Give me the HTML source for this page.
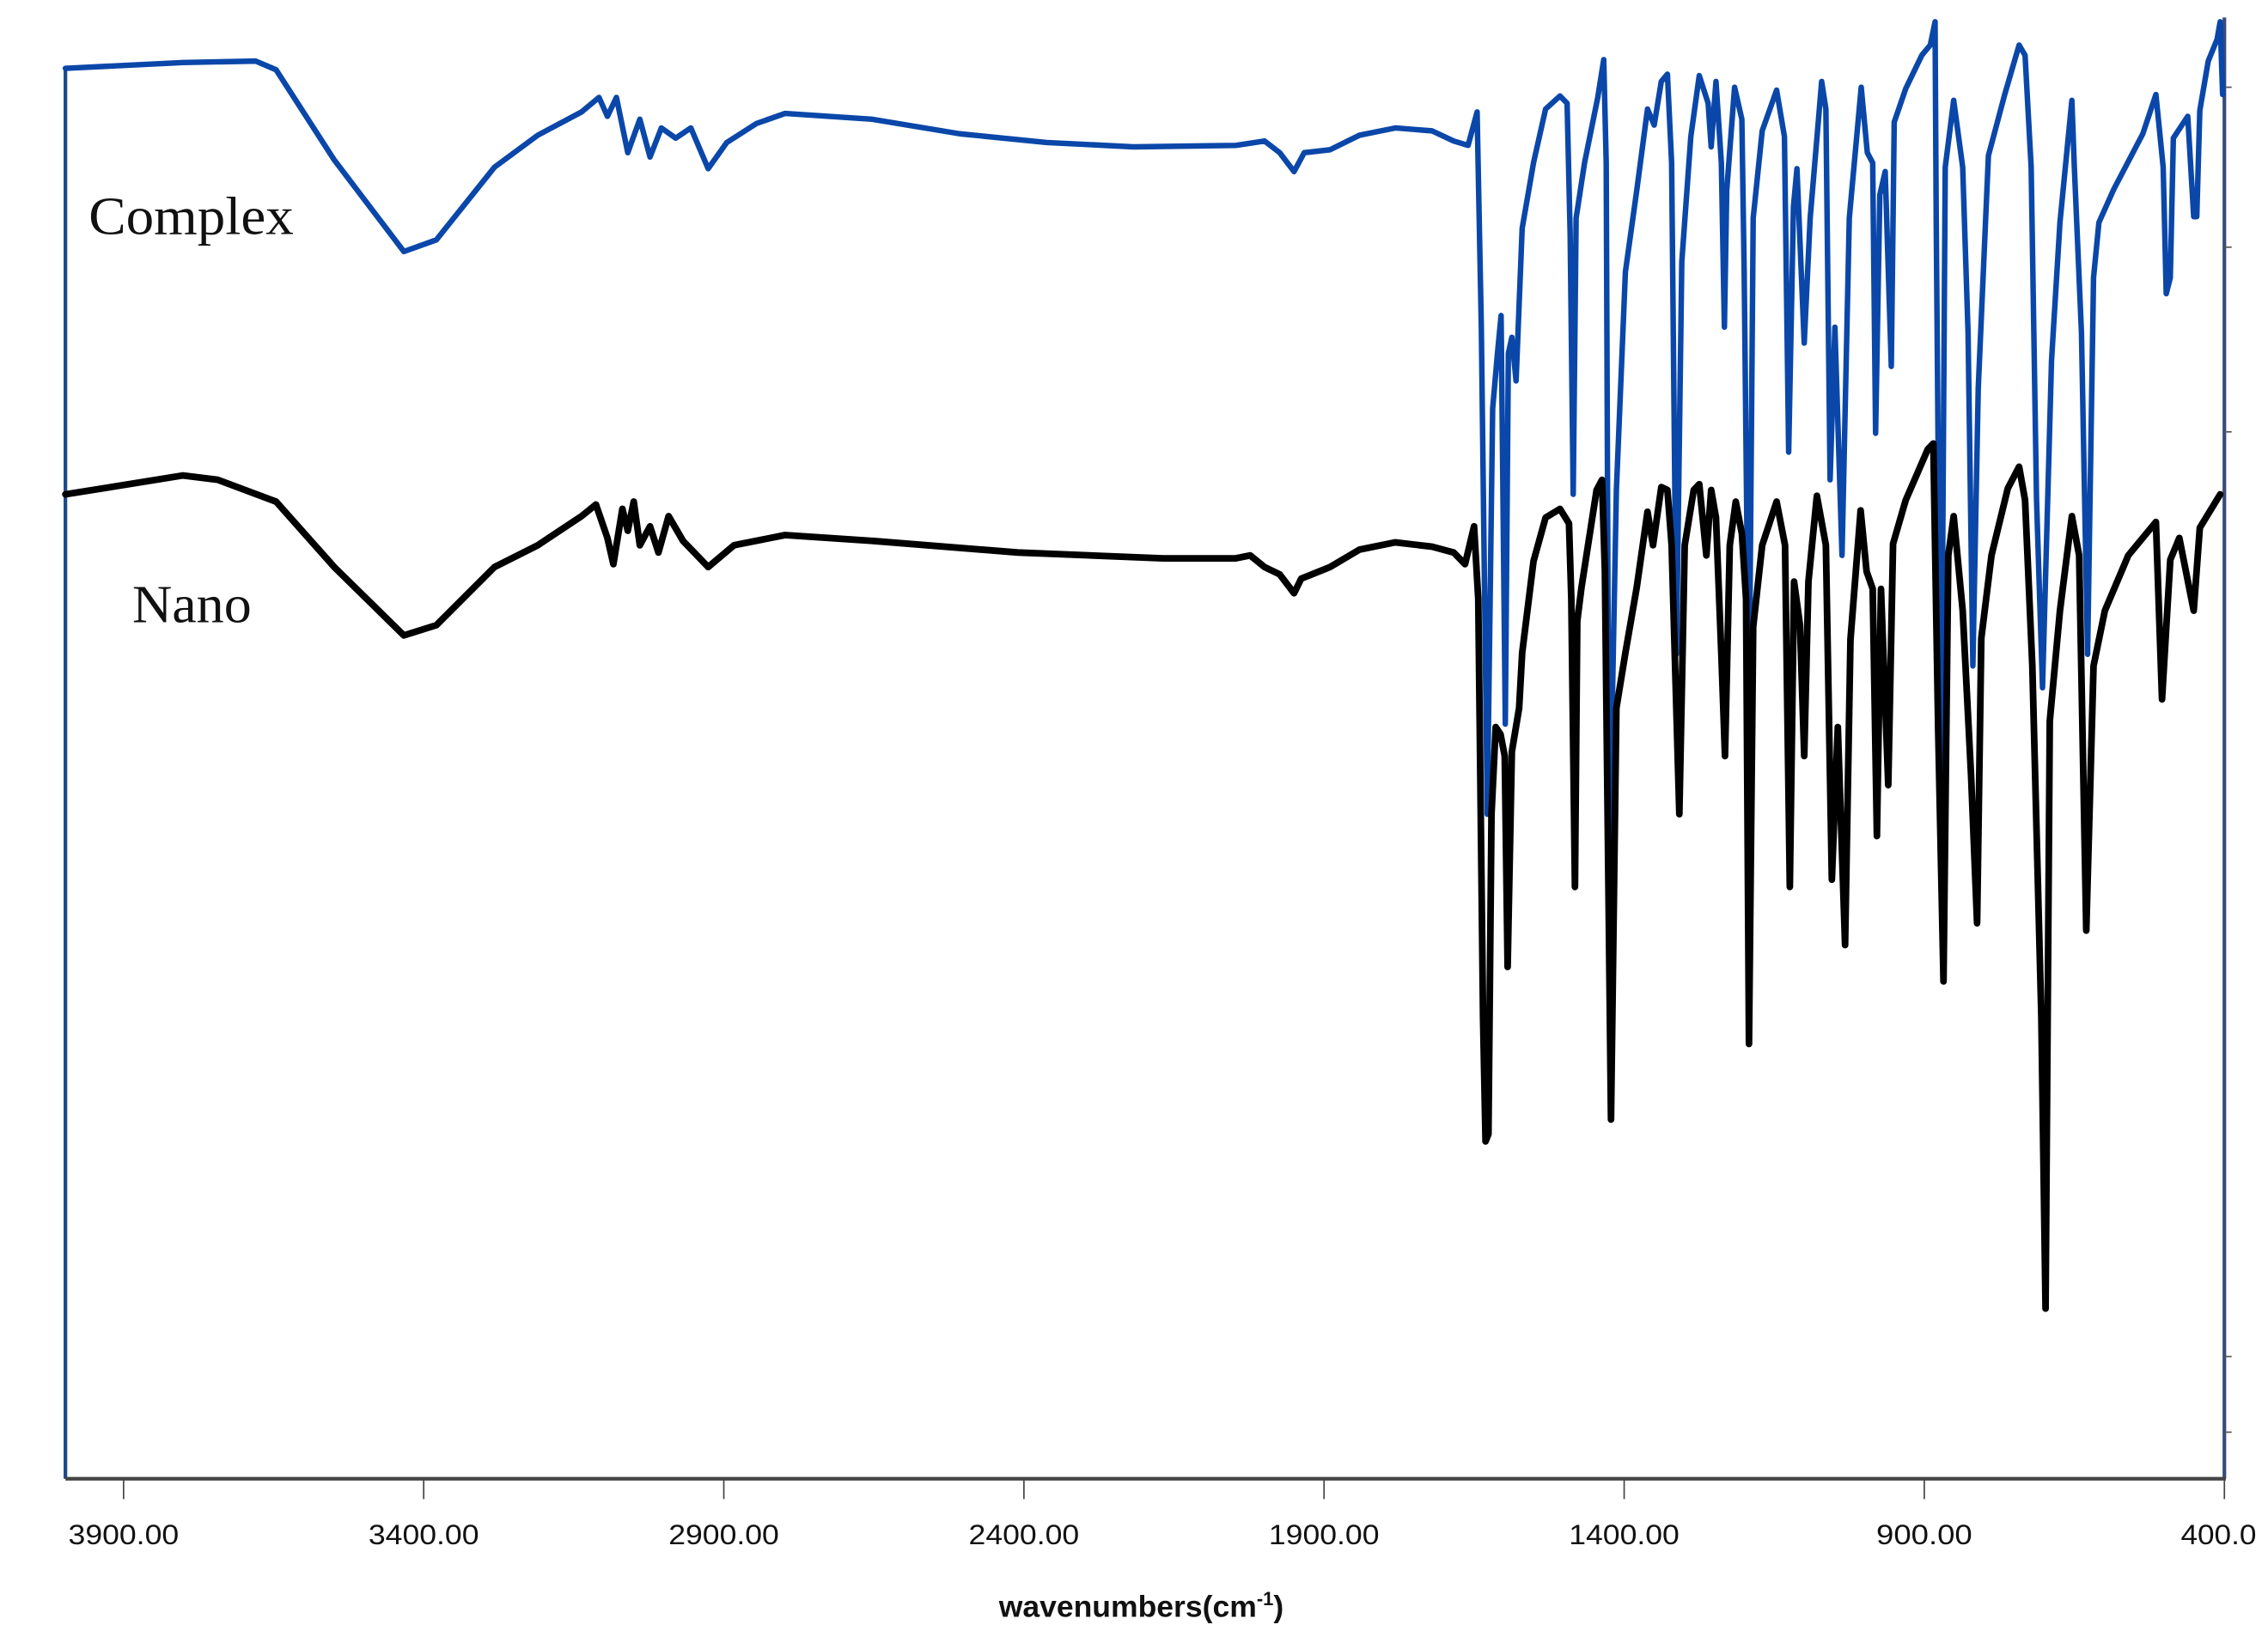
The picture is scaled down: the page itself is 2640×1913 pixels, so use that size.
<!DOCTYPE html>
<html><head><meta charset="utf-8"><title>FTIR spectra: Complex and Nano</title>
<style>html,body{margin:0;padding:0;background:#fff;}svg{display:block;}</style></head>
<body>
<svg id="chart" width="2640" height="1913" viewBox="0 0 1560 1130" preserveAspectRatio="none" xmlns="http://www.w3.org/2000/svg">
<rect x="0" y="0" width="1560" height="1130" fill="#fff"/>
<g id="axes"></g>
<g id="series"></g>
<text x="61" y="161" font-family="Liberation Serif, serif" font-size="37" fill="#111" textLength="141" lengthAdjust="spacingAndGlyphs">Complex</text>
<text x="91" y="428" font-family="Liberation Serif, serif" font-size="37" fill="#111" textLength="82" lengthAdjust="spacingAndGlyphs">Nano</text>
<text x="785" y="1112" text-anchor="middle" font-family="Liberation Sans, sans-serif" font-weight="bold" font-size="21" fill="#111">wavenumbers(cm<tspan font-size="13" dy="-8">-1</tspan><tspan dy="8">)</tspan></text>
</svg>
<script>
const tickLabels = ["3900.00","3400.00","2900.00","2400.00","1900.00","1400.00","900.00","400.0"];
const tickValues = [3900,3400,2900,2400,1900,1400,900,400];

const complexWn = [3997,3801,3680,3646,3549,3433,3379,3282,3210,3137,3108,3094,3079,3060,3040,3023,3004,2980,2955,2926,2895,2846,2798,2653,2507,2362,2217,2047,1999,1974,1950,1933,1890,1841,1781,1720,1684,1660,1645,1638,1628,1619,1611,1605,1598,1593,1587,1580,1570,1551,1531,1507,1495,1490,1485,1480,1466,1444,1434,1430,1425,1413,1398,1379,1361,1350,1338,1328,1321,1313,1304,1289,1275,1260,1255,1247,1238,1233,1229,1216,1204,1200,1192,1185,1170,1146,1133,1126,1118,1112,1100,1090,1071,1064,1057,1049,1037,1025,1005,995,986,981,974,965,955,950,931,904,890,882,880,872,865,851,836,827,819,810,793,766,742,732,722,713,703,688,674,654,650,638,628,618,609,584,536,514,502,497,490,485,461,451,446,441,427,412,407,403];
const complexT = [97.0,97.4,97.5,96.9,90.7,84.4,85.2,90.2,92.4,94.0,95.0,93.7,95.0,91.2,93.5,90.9,92.9,92.2,92.9,90.1,91.9,93.2,93.9,93.5,92.5,91.9,91.6,91.7,92.0,91.2,89.9,91.2,91.4,92.4,92.9,92.7,92.0,91.7,94.0,79.2,45.7,73.6,77.4,80.0,51.9,77.4,78.5,75.5,86.0,90.5,94.2,95.1,94.6,85.6,67.7,86.7,90.5,95.0,97.6,90.5,41.7,68.0,83.0,88.6,94.2,93.1,96.1,96.6,90.5,56.7,83.7,92.3,96.5,94.6,91.6,96.1,90.5,79.2,88.6,95.7,93.5,83.0,51.7,86.7,92.7,95.5,92.3,70.6,87.5,90.1,78.1,86.7,96.1,94.2,68.7,79.2,63.5,86.7,95.7,91.2,90.5,71.9,88.3,89.9,76.5,93.3,95.6,97.9,98.6,100.2,86.4,46.7,90.2,94.8,90.2,78.8,55.9,75.0,91.0,95.2,98.6,97.9,90.2,67.3,54.4,76.9,86.4,94.8,90.2,78.8,56.7,82.6,86.4,88.7,92.5,95.2,90.2,81.5,82.6,92.2,93.7,86.8,86.8,94.1,97.5,99.0,100.2,95.2];

const nanoWn = [3997,3801,3743,3646,3549,3433,3379,3282,3210,3137,3113,3094,3084,3069,3060,3050,3040,3023,3009,2992,2968,2926,2883,2798,2653,2410,2168,2047,2023,1999,1974,1950,1938,1890,1841,1781,1720,1684,1665,1650,1643,1635,1631,1626,1621,1614,1606,1599,1594,1587,1575,1570,1551,1531,1507,1492,1488,1482,1478,1471,1446,1437,1432,1422,1413,1398,1379,1361,1352,1338,1328,1321,1308,1299,1284,1275,1263,1255,1247,1238,1232,1224,1214,1204,1197,1192,1185,1170,1146,1132,1124,1117,1107,1100,1093,1079,1064,1054,1044,1032,1023,1006,996,986,979,972,960,952,931,894,885,877,868,860,851,836,822,812,805,788,761,742,732,720,705,698,691,674,654,642,630,618,599,560,514,504,490,475,451,441,407];
const nanoT = [67.7,69.0,68.7,67.2,62.7,58.0,58.7,62.7,64.2,66.2,67.0,64.7,62.9,66.7,65.2,67.2,64.2,65.5,63.7,66.2,64.5,62.7,64.2,64.9,64.5,63.7,63.3,63.3,63.5,62.7,62.2,60.9,61.9,62.7,63.9,64.4,64.1,63.7,62.9,65.5,60.5,31.7,23.2,23.7,45.7,51.7,51.2,49.7,35.2,50.0,53.0,56.8,63.1,66.1,66.7,65.7,60.5,40.7,59.0,61.3,68.0,68.7,62.4,24.7,53.0,56.8,61.3,66.5,64.2,68.2,68.0,64.2,45.7,64.2,68.0,68.4,63.5,68.0,66.1,56.7,49.7,64.2,67.2,65.0,60.5,29.9,58.6,64.2,67.2,64.2,40.7,61.7,58.7,49.7,61.7,67.6,64.2,41.2,51.7,36.7,57.7,66.6,62.4,61.2,44.2,61.2,47.7,64.3,67.3,70.8,71.2,51.7,34.2,63.5,66.2,59.7,48.3,38.2,57.8,63.5,68.1,69.6,67.3,55.9,31.7,11.7,52.1,59.7,66.2,63.5,37.7,55.9,59.7,63.5,65.8,53.6,63.2,64.7,59.7,65.4,67.7];

const NS = "http://www.w3.org/2000/svg";
function xScale(w){ return 85 + (3900 - w) * (1445 / 3500); }
function yScale(t){ return 1017 - t * 10; }

const axes = document.getElementById('axes');
const series = document.getElementById('series');

function mk(tag, attrs, parent){
  const e = document.createElementNS(NS, tag);
  for (const k in attrs) e.setAttribute(k, attrs[k]);
  parent.appendChild(e);
  return e;
}

const leftAxis = mk('line', {x1:45, y1:1017, x2:45, y2:47, stroke:'#1c4a8c', 'stroke-width':2.5}, axes);


const rightAxis = mk('line', {x1:1530, y1:1017, x2:1530, y2:12, stroke:'#3a4a7a', 'stroke-width':2.5}, axes);


[60,170,297,933,985].forEach(function(yy){
  const rt = mk('line', {x1:1530, y1:yy, x2:1535, y2:yy, stroke:'#555', 'stroke-width':1}, axes);
  
  
});
const bottomAxis = mk('line', {x1:45, y1:1017, x2:1531, y2:1017, stroke:'#444', 'stroke-width':2.5}, axes);



tickValues.forEach(function(v, i){
  const x = xScale(v);
  const t = mk('line', {x1:x, y1:1017, x2:x, y2:1031, stroke:'#444', 'stroke-width':1}, axes);
  
  
  const lbl = mk('text', {x:x, y:1062, 'text-anchor':'middle', 'font-family':'Liberation Sans Narrow, Liberation Sans, sans-serif', 'font-size':'19', fill:'#111'}, axes);
  lbl.textContent = tickLabels[i];
  
  
  if (i === tickLabels.length - 1) lbl.setAttribute('x', x - 4);
  const n = tickLabels[i].length;
  lbl.setAttribute('textLength', n >= 7 ? 76 : (n === 6 ? 66 : 52));
  lbl.setAttribute('lengthAdjust', 'spacingAndGlyphs');
});

function drawSeries(wn, tv, color, width, name){
  let d = '';
  for (let i = 0; i < wn.length; i++){
    d += (i ? 'L' : 'M') + xScale(wn[i]).toFixed(1) + ' ' + yScale(tv[i]).toFixed(1);
  }
  const p = mk('path', {d:d, fill:'none', stroke:color, 'stroke-width':width, 'stroke-linejoin':'round', 'stroke-linecap':'round'}, series);
  
  
}
drawSeries(complexWn, complexT, '#0a47a9', 3.8, 'complex-spectrum-line');
drawSeries(nanoWn, nanoT, '#000000', 4.6, 'nano-spectrum-line');
</script>
</body></html>
